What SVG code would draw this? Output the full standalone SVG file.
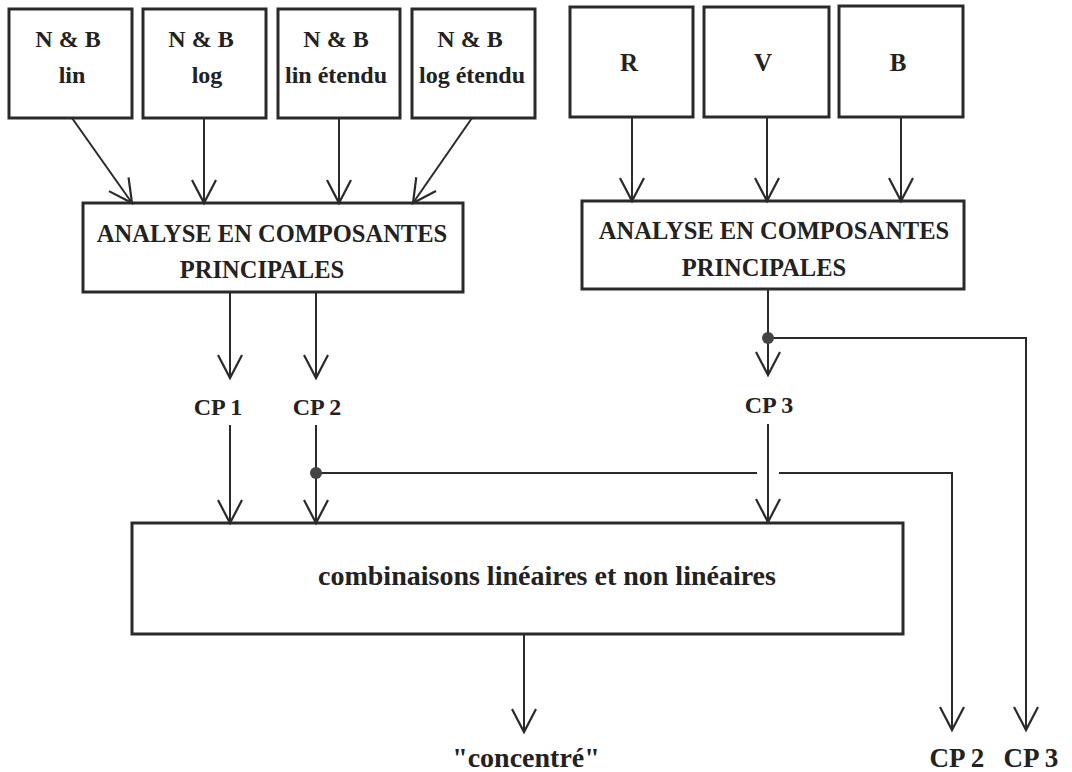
<svg xmlns="http://www.w3.org/2000/svg" width="1072" height="772" viewBox="0 0 1072 772">
<style>
.box{fill:#fff;stroke:#2a2a2a;stroke-width:3}
.t{font-family:"Liberation Serif","Times New Roman",serif;font-weight:bold;fill:#222;text-anchor:middle}
.ln{fill:none;stroke:#2a2a2a;stroke-width:2}
.ar{marker-end:url(#ah)}
</style>
<defs>
<marker id="ah" markerUnits="userSpaceOnUse" viewBox="-26 -15 30 30" refX="0" refY="0" markerWidth="30" markerHeight="30" orient="auto">
<path d="M-23,-12 L0,0 L-23,12" fill="none" stroke="#2a2a2a" stroke-width="2.2"/>
</marker>
</defs>
<rect width="1072" height="772" fill="#fff"/>

<g id="nb-lin"><rect class="box" x="9" y="9" width="123" height="109"/><text class="t" x="68" y="47" font-size="24">N &amp; B</text><text class="t" x="72" y="83" font-size="24">lin</text></g>
<g id="nb-log"><rect class="box" x="143" y="9" width="123" height="109"/><text class="t" x="201" y="47" font-size="24">N &amp; B</text><text class="t" x="207" y="83" font-size="24">log</text></g>
<g id="nb-lin-etendu"><rect class="box" x="278" y="9" width="122" height="109"/><text class="t" x="336" y="47" font-size="24">N &amp; B</text><text class="t" x="336" y="83" font-size="24">lin étendu</text></g>
<g id="nb-log-etendu"><rect class="box" x="412" y="9" width="123" height="109"/><text class="t" x="470" y="47" font-size="24">N &amp; B</text><text class="t" x="472" y="83" font-size="24">log étendu</text></g>

<g id="r"><rect class="box" x="570" y="7" width="123" height="110"/><text class="t" x="629" y="71" font-size="25">R</text></g>
<g id="v"><rect class="box" x="704" y="7" width="125" height="110"/><text class="t" x="763" y="71" font-size="25">V</text></g>
<g id="b"><rect class="box" x="839" y="6" width="124" height="111"/><text class="t" x="898" y="71" font-size="25">B</text></g>

<g id="acp-left"><rect class="box" x="83" y="203" width="380" height="89"/><text class="t" x="272" y="242" font-size="24.5">ANALYSE EN COMPOSANTES</text><text class="t" x="262" y="278" font-size="24.5">PRINCIPALES</text></g>
<g id="acp-right"><rect class="box" x="582" y="201" width="382" height="88"/><text class="t" x="774" y="239" font-size="24.5">ANALYSE EN COMPOSANTES</text><text class="t" x="764" y="276" font-size="24.5">PRINCIPALES</text></g>

<g id="cp-labels">
<text class="t" x="218" y="415" font-size="24">CP 1</text>
<text class="t" x="317" y="415" font-size="24">CP 2</text>
<text class="t" x="769" y="413" font-size="24">CP 3</text>
</g>

<g id="combo"><rect class="box" x="132" y="523" width="771" height="111"/><text class="t" x="547" y="585" font-size="28">combinaisons linéaires et non linéaires</text></g>

<g id="outputs">
<text class="t" x="526" y="767" font-size="28">"concentré"</text>
<text class="t" x="957" y="767" font-size="27">CP 2</text>
<text class="t" x="1031" y="767" font-size="27">CP 3</text>
</g>

<g id="connectors">
<line class="ln ar" x1="72" y1="118" x2="132" y2="203"/>
<line class="ln ar" x1="204" y1="118" x2="204" y2="203"/>
<line class="ln ar" x1="339" y1="118" x2="339" y2="203"/>
<line class="ln ar" x1="472" y1="118" x2="413" y2="203"/>
<line class="ln ar" x1="632" y1="117" x2="632" y2="201"/>
<line class="ln ar" x1="767" y1="117" x2="767" y2="201"/>
<line class="ln ar" x1="901" y1="117" x2="901" y2="201"/>
<line class="ln ar" x1="230" y1="292" x2="230" y2="378"/>
<line class="ln ar" x1="316" y1="292" x2="316" y2="378"/>
<line class="ln ar" x1="768" y1="289" x2="768" y2="375"/>
<line class="ln ar" x1="230" y1="425" x2="230" y2="523"/>
<line class="ln ar" x1="316" y1="425" x2="316" y2="523"/>
<line class="ln ar" x1="768" y1="424" x2="768" y2="522"/>
<path class="ln" d="M316,473 H757"/>
<path class="ln ar" d="M779,473 H952 V730"/>
<path class="ln ar" d="M768,338 H1026 V730"/>
<line class="ln ar" x1="524" y1="634" x2="524" y2="732"/>
<circle cx="316" cy="473" r="6" fill="#444"/>
<circle cx="768" cy="338" r="6" fill="#444"/>
</g>
</svg>
